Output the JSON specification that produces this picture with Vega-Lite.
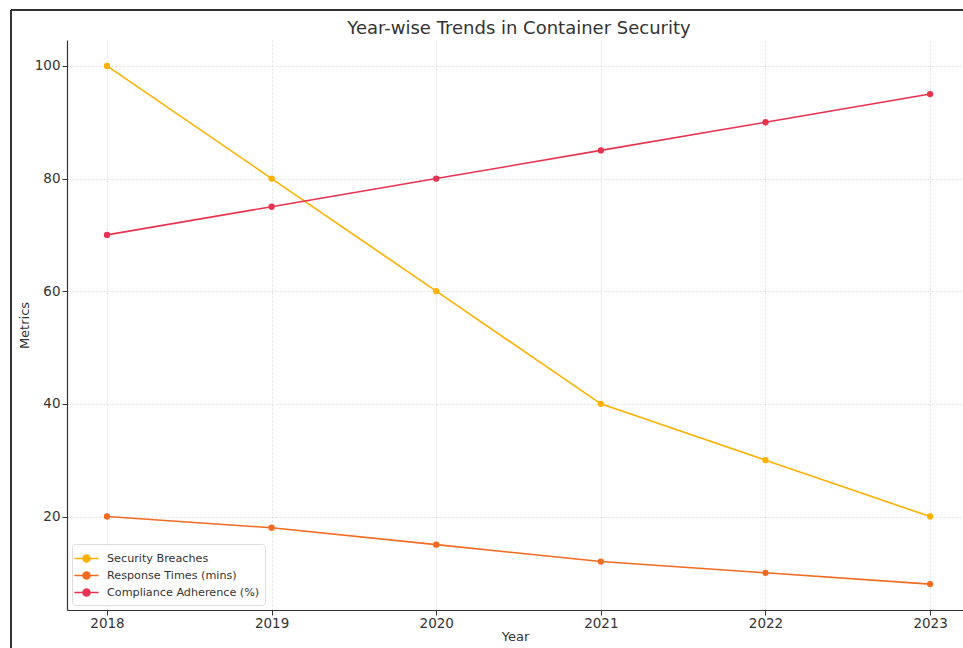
{
  "$schema": "https://vega.github.io/schema/vega-lite/v6.json",
  "width": 896,
  "height": 570,
  "autosize": {"type": "none"},
  "padding": {"left": 67, "top": 40, "right": 0, "bottom": 38},
  "background": "white",
  "title": {"text": "Year-wise Trends in Container Security", "font": "DejaVu Sans", "fontSize": 18, "fontWeight": "normal", "color": "#333333", "offset": -29, "dx": 4},
  "config": {
    "view": {"stroke": null},
    "font": "DejaVu Sans",
    "axis": {
      "labelFont": "DejaVu Sans", "labelFontSize": 13.5, "labelColor": "#333333",
      "titleFont": "DejaVu Sans", "titleFontSize": 13, "titleFontWeight": "normal", "titleColor": "#333333",
      "domainColor": "#333333", "domainWidth": 1.2, "tickColor": "#333333", "tickSize": 5,
      "gridColor": "#d8d8d8", "gridDash": [2, 2], "gridWidth": 0.8
    }
  },
  "data": {
    "values": [
      {"year": 2018, "metric": "Security Breaches", "value": 100},
      {"year": 2019, "metric": "Security Breaches", "value": 80},
      {"year": 2020, "metric": "Security Breaches", "value": 60},
      {"year": 2021, "metric": "Security Breaches", "value": 40},
      {"year": 2022, "metric": "Security Breaches", "value": 30},
      {"year": 2023, "metric": "Security Breaches", "value": 20},
      {"year": 2018, "metric": "Response Times (mins)", "value": 20},
      {"year": 2019, "metric": "Response Times (mins)", "value": 18},
      {"year": 2020, "metric": "Response Times (mins)", "value": 15},
      {"year": 2021, "metric": "Response Times (mins)", "value": 12},
      {"year": 2022, "metric": "Response Times (mins)", "value": 10},
      {"year": 2023, "metric": "Response Times (mins)", "value": 8},
      {"year": 2018, "metric": "Compliance Adherence (%)", "value": 70},
      {"year": 2019, "metric": "Compliance Adherence (%)", "value": 75},
      {"year": 2020, "metric": "Compliance Adherence (%)", "value": 80},
      {"year": 2021, "metric": "Compliance Adherence (%)", "value": 85},
      {"year": 2022, "metric": "Compliance Adherence (%)", "value": 90},
      {"year": 2023, "metric": "Compliance Adherence (%)", "value": 95}
    ]
  },
  "layer": [
    {
      "mark": {"type": "line", "strokeWidth": 1.6, "point": {"size": 40, "filled": true}},
      "encoding": {
        "x": {"field": "year", "type": "quantitative",
          "scale": {"domain": [2017.757, 2023.2], "nice": false, "zero": false},
          "axis": {"title": "Year", "values": [2018, 2019, 2020, 2021, 2022, 2023], "format": "d", "labelPadding": 1, "titlePadding": 1, "labelFlush": false}},
        "y": {"field": "value", "type": "quantitative",
          "scale": {"domain": [3.4, 104.6], "nice": false, "zero": false},
          "axis": {"title": "Metrics", "values": [20, 40, 60, 80, 100], "labelPadding": 2, "titlePadding": 3}},
        "color": {"field": "metric", "type": "nominal",
          "scale": {"domain": ["Security Breaches", "Response Times (mins)", "Compliance Adherence (%)"], "range": ["#FFB000", "#F26B21", "#E8334F"]},
          "legend": {"title": null, "orient": "bottom-left", "offset": 5,
            "labelFont": "DejaVu Sans", "labelFontSize": 11.2, "labelColor": "#333333", "labelOffset": 11,
            "symbolType": "M-1.4,0L1.4,0M0.4,0A0.4,0.4 0 1 1 -0.4,0A0.4,0.4 0 1 1 0.4,0",
            "symbolSize": 300, "symbolStrokeWidth": 1.6, "rowPadding": 0,
            "fillColor": "rgba(255,255,255,0.85)", "strokeColor": "#dddddd", "padding": 5, "cornerRadius": 3}}
      }
    },
    {
      "mark": {"type": "rule", "color": "#333333", "strokeWidth": 1.5, "clip": false},
      "encoding": {"x": {"datum": 2017.417}, "y": {"datum": 109.93}, "y2": {"datum": -4}}
    },
    {
      "mark": {"type": "rule", "color": "#333333", "strokeWidth": 1.5, "clip": false},
      "encoding": {"x": {"datum": 2017.417}, "x2": {"datum": 2023.4}, "y": {"datum": 109.93}}
    }
  ]
}
